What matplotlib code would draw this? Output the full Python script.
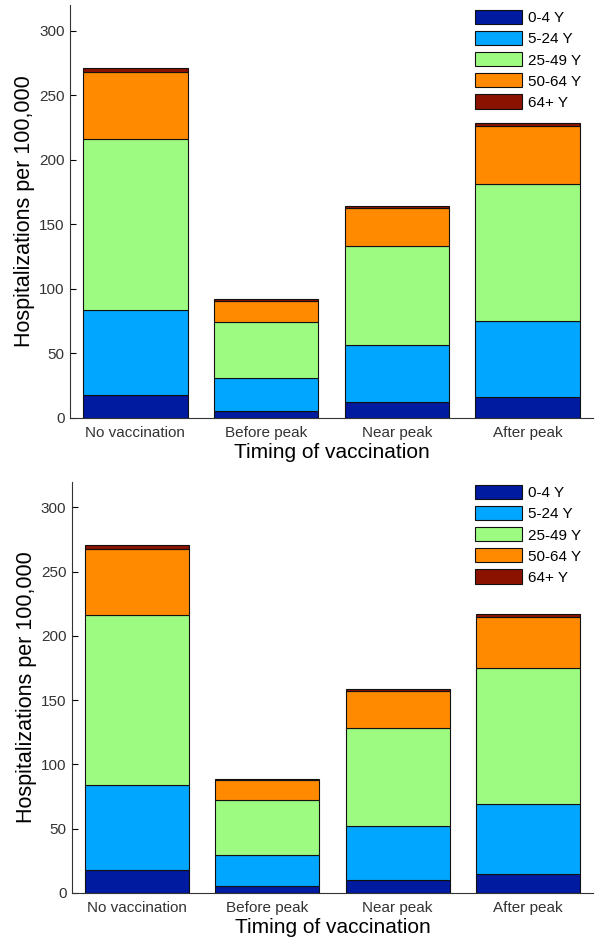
import matplotlib
matplotlib.use("Agg")
import matplotlib.pyplot as plt
import numpy as np

plt.rcParams['font.family'] = ['Liberation Sans', 'DejaVu Sans']

categories = ['No vaccination', 'Before peak', 'Near peak', 'After peak']
age_groups = ['0-4 Y', '5-24 Y', '25-49 Y', '50-64 Y', '64+ Y']
colors = ['#001AA0', '#00A6FF', '#9EFB82', '#FF8A00', '#8C1200']

# cumulative tops, per age group (top panel)
top_cum = [
    [18, 5.6, 12.4, 16.2],
    [83.7, 31, 56.7, 75.2],
    [216.5, 74, 133.5, 181],
    [268, 90.7, 162.4, 226],
    [271, 92.2, 164.4, 228.6],
]
# bottom panel
bottom_cum = [
    [17.6, 5.2, 9.8, 14.5],
    [83.5, 29.2, 51.7, 69.3],
    [216.2, 71.9, 128, 174.6],
    [267.4, 87.4, 156.7, 214.9],
    [271, 88.7, 158.6, 217.2],
]

fig = plt.figure(figsize=(6, 9.42), dpi=100)
ax1 = fig.add_axes([0.1167, 0.5563, 0.8716, 0.4384])
ax2 = fig.add_axes([0.12, 0.0523, 0.8683, 0.4363])


def draw(ax, cum, legend_y):
    x = np.arange(1, len(categories) + 1)
    prev = np.zeros(len(categories))
    for name, col, row in zip(age_groups, colors, cum):
        row = np.array(row)
        ax.bar(x, row - prev, bottom=prev, width=0.8, color=col,
               edgecolor='#111111', linewidth=0.8, label=name)
        prev = row
    ax.set_xlim(0.5, 4.5)
    ax.set_ylim(0, 320)
    ax.set_yticks([0, 50, 100, 150, 200, 250, 300])
    ax.set_xticks(x)
    ax.set_xticklabels(categories)
    ax.tick_params(axis='y', direction='in', length=4, labelsize=11,
                   labelcolor='#333333', pad=4)
    ax.tick_params(axis='x', length=0, labelsize=11, labelcolor='#333333', pad=6)
    for s in ['top', 'right']:
        ax.spines[s].set_visible(False)
    for s in ['left', 'bottom']:
        ax.spines[s].set_color('#333333')
        ax.spines[s].set_linewidth(0.8)
    ax.set_ylabel('Hospitalizations per 100,000', fontsize=15.5, labelpad=3)
    ax.set_xlabel('Timing of vaccination', fontsize=15, labelpad=2)
    ax.legend(loc='upper left', bbox_to_anchor=(475 / 600, legend_y),
              bbox_transform=fig.transFigure, frameon=False, fontsize=11,
              handlelength=3.1, handleheight=1.05, labelspacing=0.38,
              handletextpad=0.4, borderpad=0, borderaxespad=0)


draw(ax1, top_cum, 1 - 10 / 942)
draw(ax2, bottom_cum, 1 - 485 / 942)

fig.savefig('out.png', dpi=100)
